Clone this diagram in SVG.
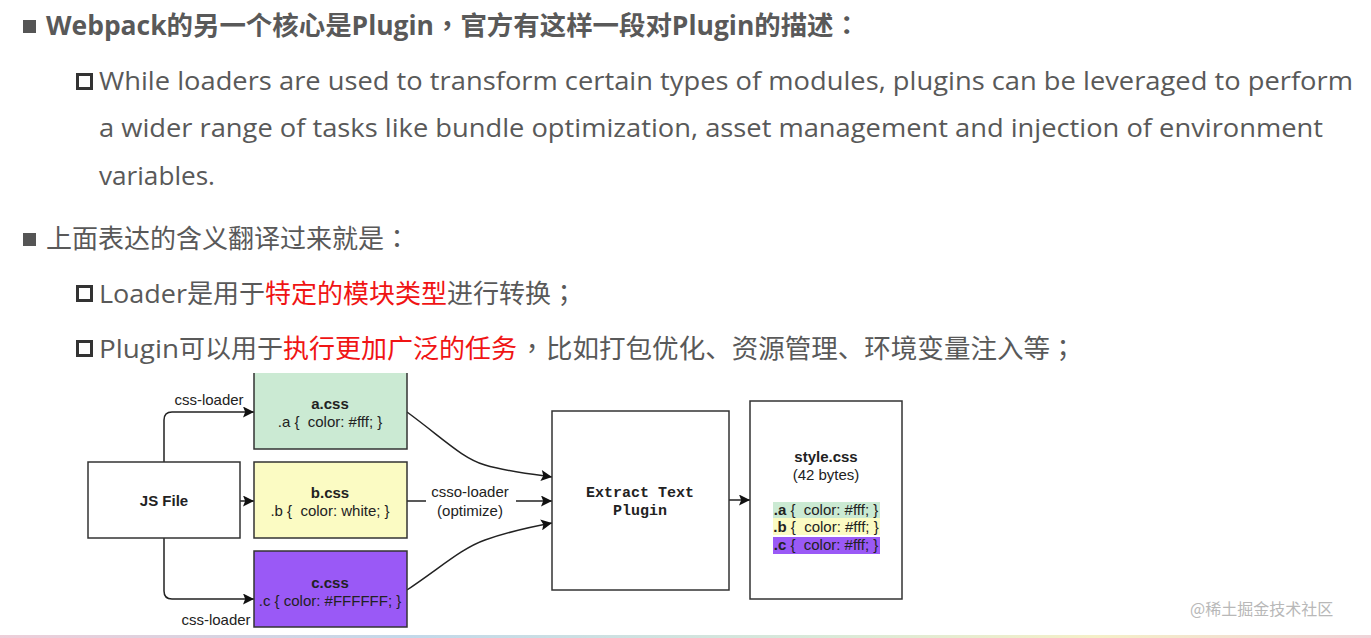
<svg xmlns="http://www.w3.org/2000/svg" width="1371" height="638" viewBox="0 0 1371 638">
<style>
.t{font-family:"Open Sans","Noto Sans CJK SC",sans-serif;font-size:26px;fill:#595959}
.p{font-family:"Noto Sans CJK TC",sans-serif}
.b{font-weight:bold}
.r{fill:#f01414}
.d{font-family:"Liberation Sans",Arial,sans-serif;font-size:15px;fill:#222;text-anchor:middle;white-space:pre}
.m{font-family:"Liberation Mono","DejaVu Sans Mono",monospace;font-size:15px;font-weight:bold;fill:#222;text-anchor:middle}
.box{stroke:#333;stroke-width:1.5}
.c{fill:none;stroke:#222;stroke-width:1.5}
</style>
<defs>
<marker id="ah" viewBox="0 0 10 10" refX="10" refY="5" markerWidth="12" markerHeight="11" markerUnits="userSpaceOnUse" orient="auto">
<path d="M0,0 L10,5 L0,10 L2,5 Z" fill="#111"/>
</marker>
<linearGradient id="bg" x1="0" x2="1" y1="0" y2="0">
<stop offset="0" stop-color="#e8b8c8"/>
<stop offset="0.3" stop-color="#a8c8e0"/>
<stop offset="0.6" stop-color="#c8e0c8"/>
<stop offset="0.8" stop-color="#f0e8b0"/>
<stop offset="1" stop-color="#e8c0c8"/>
</linearGradient>
<clipPath id="cut"><rect x="0" y="373" width="1371" height="265"/></clipPath>
</defs>
<rect width="1371" height="638" fill="#fff"/>
<g id="text">
<rect x="23" y="20" width="13" height="13" fill="#555"/>
<text class="t b" x="46" y="35" textLength="814" lengthAdjust="spacingAndGlyphs">Webpack的另一个核心是Plugin<tspan class="p">，</tspan>官方有这样一段对Plugin的描述<tspan class="p">：</tspan></text>
<rect x="77.5" y="74.5" width="14" height="14" fill="none" stroke="#333" stroke-width="3"/>
<text class="t" x="99" y="90" textLength="1254" lengthAdjust="spacingAndGlyphs">While loaders are used to transform certain types of modules, plugins can be leveraged to perform</text>
<text class="t" x="99" y="137" textLength="1224" lengthAdjust="spacingAndGlyphs">a wider range of tasks like bundle optimization, asset management and injection of environment</text>
<text class="t" x="99" y="185" textLength="116" lengthAdjust="spacingAndGlyphs">variables.</text>
<rect x="23" y="233" width="13" height="13" fill="#555"/>
<text class="t" x="46" y="248">上面表达的含义翻译过来就是<tspan class="p">：</tspan></text>
<rect x="77.5" y="286.5" width="14" height="14" fill="none" stroke="#333" stroke-width="3"/>
<text class="t" x="99" y="303"><tspan textLength="88" lengthAdjust="spacingAndGlyphs">Loader</tspan><tspan x="187">是用于</tspan><tspan x="265" class="r">特定的模块类型</tspan><tspan x="447">进行转换</tspan><tspan class="p">；</tspan></text>
<rect x="77.5" y="341.5" width="14" height="14" fill="none" stroke="#333" stroke-width="3"/>
<text class="t" x="99" y="358"><tspan textLength="80" lengthAdjust="spacingAndGlyphs">Plugin</tspan><tspan x="179">可以用于</tspan><tspan x="283" class="r">执行更加广泛的任务</tspan><tspan x="519" class="p">，</tspan><tspan x="546" textLength="504" lengthAdjust="spacingAndGlyphs">比如打包优化、资源管理、环境变量注入等</tspan><tspan x="1050" class="p">；</tspan></text>
</g>
<g id="connectors">
<path class="c" d="M164,462 V420 Q164,412 172,412 H254" marker-end="url(#ah)"/>
<path class="c" d="M240,501 H254" marker-end="url(#ah)"/>
<path class="c" d="M164,538 V591 Q164,599 172,599 H254" marker-end="url(#ah)"/>
<path class="c" d="M407,412 C445,440 462,458 485,465 C505,471 530,474 552,477" marker-end="url(#ah)"/>
<path class="c" d="M407,501 H552" marker-end="url(#ah)"/>
<path class="c" d="M407,590 C440,568 462,548 485,540 C505,533 530,527 552,523" marker-end="url(#ah)"/>
<path class="c" d="M729,500 H750" marker-end="url(#ah)"/>
<text class="d" x="209" y="405">css-loader</text>
<text class="d" x="216" y="625">css-loader</text>
<rect x="426" y="484" width="90" height="36" fill="#fff"/>
<text class="d" x="470" y="497">csso-loader</text>
<text class="d" x="470" y="516">(optimize)</text>
</g>
<g id="js-file">
<rect class="box" x="88" y="462" width="152" height="76" fill="#fff"/>
<text class="d b" x="164" y="506">JS File</text>
</g>
<g id="a-css" clip-path="url(#cut)">
<rect class="box" x="254" y="366" width="153" height="83" fill="#cbead3"/>
<text class="d b" x="330" y="409">a.css</text>
<text class="d" x="330" y="427">.a {  color: #fff; }</text>
</g>
<g id="b-css">
<rect class="box" x="254" y="462" width="153" height="76" fill="#fbfbc3"/>
<text class="d b" x="330" y="498">b.css</text>
<text class="d" x="330" y="516">.b {  color: white; }</text>
</g>
<g id="c-css">
<rect class="box" x="254" y="551" width="153" height="76" fill="#9a59f6"/>
<text class="d b" x="330" y="588">c.css</text>
<text class="d" x="330" y="606">.c { color: #FFFFFF; }</text>
</g>
<g id="extract-plugin">
<rect class="box" x="552" y="411" width="177" height="179" fill="#fff"/>
<text class="m" x="640" y="497">Extract Text</text>
<text class="m" x="640" y="515">Plugin</text>
</g>
<g id="style-css">
<rect class="box" x="750" y="401" width="152" height="198" fill="#fff"/>
<text class="d b" x="826" y="462">style.css</text>
<text class="d" x="826" y="480">(42 bytes)</text>
<rect x="773" y="502" width="107" height="16" fill="#cbead3"/>
<rect x="773" y="518" width="107" height="17" fill="#fbfbc3"/>
<rect x="773" y="537" width="107" height="17" fill="#9a59f6"/>
<text class="d" x="826" y="515"><tspan class="b">.a</tspan> {  color: #fff; }</text>
<text class="d" x="826" y="532"><tspan class="b">.b</tspan> {  color: #fff; }</text>
<text class="d" x="826" y="550"><tspan class="b">.c</tspan> {  color: #fff; }</text>
</g>
<text x="1190" y="615" font-family="'Noto Sans CJK SC',sans-serif" font-size="16" fill="#b8b8b8">@稀土掘金技术社区</text>
<rect x="0" y="635" width="1371" height="3" fill="url(#bg)" opacity="0.7"/>
</svg>
